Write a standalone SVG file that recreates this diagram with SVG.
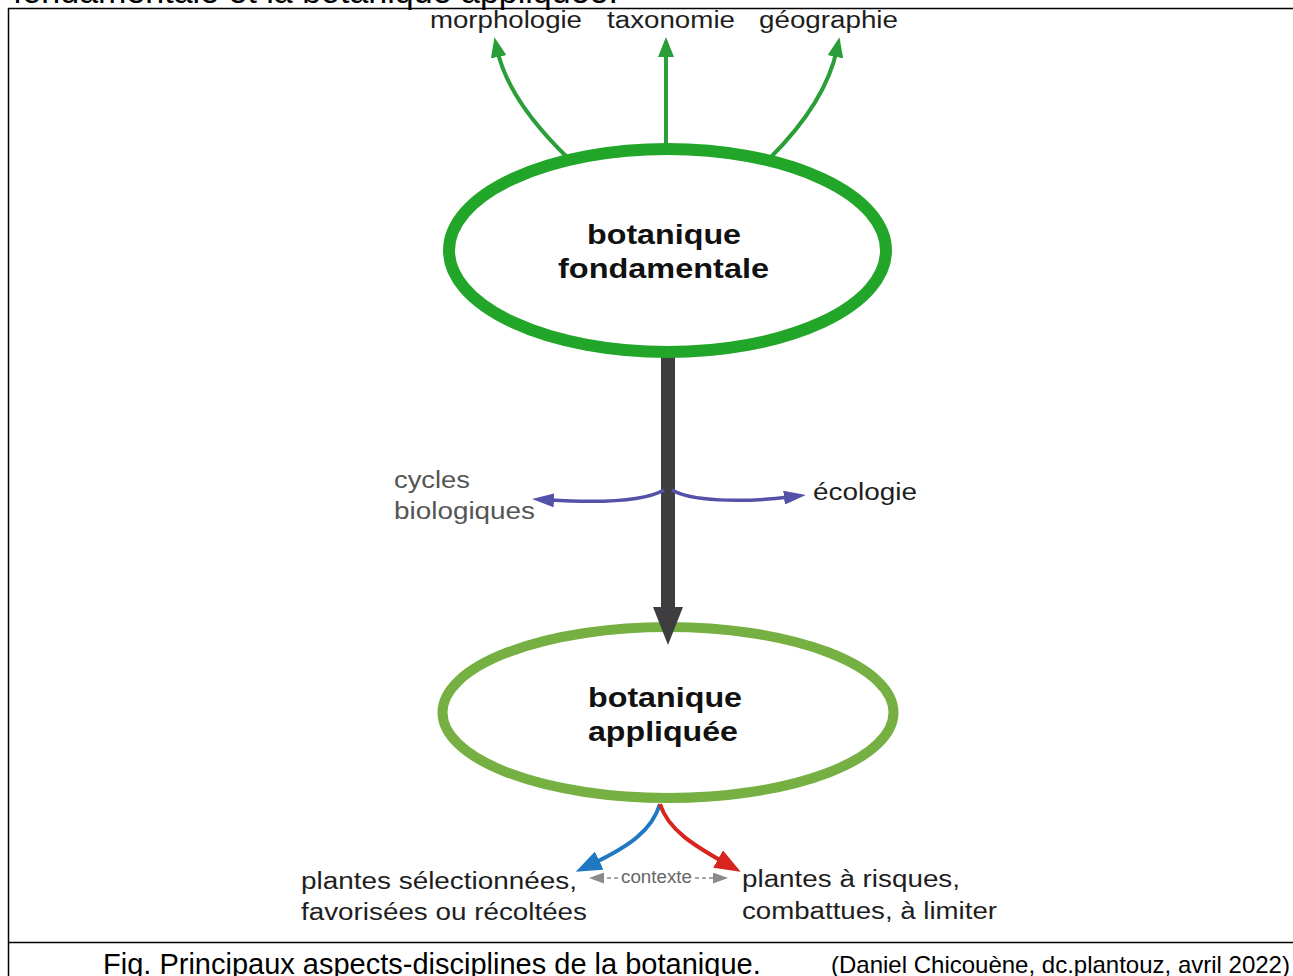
<svg xmlns="http://www.w3.org/2000/svg" width="1293" height="976" viewBox="0 0 1293 976">
  <style>
    .lbl { font-family: "Liberation Sans", Arial, sans-serif; font-size: 23px; fill: #1e1e1e; }
    .node { font-family: "Liberation Sans", Arial, sans-serif; font-size: 28px; font-weight: bold; fill: #111; }
    .cap { font-family: "Liberation Sans", Arial, sans-serif; fill: #000; }
    .grey { fill: #555; }
    .ctx { font-family: "Liberation Sans", Arial, sans-serif; font-size: 18px; fill: #666; }
  </style>
  <defs>
    <marker id="mGreen" markerUnits="userSpaceOnUse" markerWidth="20" markerHeight="16" refX="8" refY="8" orient="auto">
      <path d="M0,0 L20,8 L0,16 z" fill="#2a9e38"/>
    </marker>
    <marker id="mPurple" markerUnits="userSpaceOnUse" markerWidth="22" markerHeight="14" refX="5" refY="7" orient="auto">
      <path d="M0,0 L22,7 L0,14 z" fill="#5451a8"/>
    </marker>
    <marker id="mBlue" markerUnits="userSpaceOnUse" markerWidth="26" markerHeight="20" refX="8" refY="10" orient="auto">
      <path d="M0,0 L26,10 L0,20 z" fill="#1f78c1"/>
    </marker>
    <marker id="mRed" markerUnits="userSpaceOnUse" markerWidth="26" markerHeight="20" refX="8" refY="10" orient="auto">
      <path d="M0,0 L26,10 L0,20 z" fill="#d8241f"/>
    </marker>
    <marker id="mGrey" markerUnits="userSpaceOnUse" markerWidth="15" markerHeight="11" refX="0" refY="5.5" orient="auto">
      <path d="M0,0 L15,5.5 L0,11 z" fill="#8a8a8a"/>
    </marker>
  </defs>

  <rect width="1293" height="976" fill="#fff"/>

  <!-- cut-off title above the frame -->
  <text class="cap" x="13" y="3" font-size="34">fondamentale et la botanique appliquée.</text>

  <!-- frame -->
  <g id="frame" fill="none" stroke="#000" stroke-width="1.5">
    <rect x="8.5" y="8.5" width="1300" height="1000" fill="none"/>
    <line x1="8" y1="942.5" x2="1293" y2="942.5"/>
  </g>

  <!-- connectors -->
  <g id="connectors" fill="none">
    <path d="M568,158 Q508,100 497,49" stroke="#2a9e38" stroke-width="4" marker-end="url(#mGreen)"/>
    <path d="M666,152 L666,49" stroke="#2a9e38" stroke-width="4" marker-end="url(#mGreen)"/>
    <path d="M770,158 Q826,102 837,49" stroke="#2a9e38" stroke-width="4" marker-end="url(#mGreen)"/>

    <path d="M668,356 L668,609" stroke="#3e3e40" stroke-width="14"/>

    <path d="M664,490 C645,501 600,503 549,500" stroke="#5451a8" stroke-width="3.5" marker-end="url(#mPurple)"/>
    <path d="M672,490 C690,501 740,503 789,497" stroke="#5451a8" stroke-width="3.5" marker-end="url(#mPurple)"/>

    <path d="M660,804 C652,830 630,846 592,864" stroke="#1f78c1" stroke-width="4" marker-end="url(#mBlue)"/>
    <path d="M660,804 C668,830 695,846 725,863" stroke="#d8241f" stroke-width="4" marker-end="url(#mRed)"/>

    <path d="M618,878 L604,878" stroke="#8a8a8a" stroke-width="1.5" stroke-dasharray="4,3" marker-end="url(#mGrey)"/>
    <path d="M695,878 L713,878" stroke="#8a8a8a" stroke-width="1.5" stroke-dasharray="4,3" marker-end="url(#mGrey)"/>
  </g>

  <!-- node: botanique fondamentale -->
  <g id="node-fondamentale">
    <ellipse cx="667.5" cy="250.5" rx="218.5" ry="101.5" fill="#fff" stroke="#22a629" stroke-width="12"/>
    <text class="node" x="587" y="244" textLength="154" lengthAdjust="spacingAndGlyphs">botanique</text>
    <text class="node" x="558" y="278" textLength="211" lengthAdjust="spacingAndGlyphs">fondamentale</text>
  </g>

  <!-- node: botanique appliquée -->
  <g id="node-appliquee">
    <ellipse cx="668" cy="712.5" rx="225.5" ry="85.5" fill="none" stroke="#76b043" stroke-width="10"/>
    <text class="node" x="588" y="707" textLength="154" lengthAdjust="spacingAndGlyphs">botanique</text>
    <text class="node" x="588" y="741" textLength="150" lengthAdjust="spacingAndGlyphs">appliquée</text>
  </g>

  <!-- dark arrowhead drawn over ellipse 2 -->
  <g id="dark-head">
    <path d="M653,607 L683,607 L668,645 z" fill="#3e3e40"/>
  </g>

  <g id="label-morphologie"><text class="lbl" x="430" y="28" textLength="152" lengthAdjust="spacingAndGlyphs">morphologie</text></g>
  <g id="label-taxonomie"><text class="lbl" x="607" y="28" textLength="128" lengthAdjust="spacingAndGlyphs">taxonomie</text></g>
  <g id="label-geographie"><text class="lbl" x="759" y="28" textLength="139" lengthAdjust="spacingAndGlyphs">géographie</text></g>

  <g id="label-cycles">
    <text class="lbl grey" x="394" y="488" textLength="76" lengthAdjust="spacingAndGlyphs">cycles</text>
    <text class="lbl grey" x="394" y="519" textLength="141" lengthAdjust="spacingAndGlyphs">biologiques</text>
  </g>
  <g id="label-ecologie"><text class="lbl" x="813" y="500" textLength="104" lengthAdjust="spacingAndGlyphs">écologie</text></g>

  <g id="label-selectionnees">
    <text class="lbl" x="301" y="889" textLength="276" lengthAdjust="spacingAndGlyphs">plantes sélectionnées,</text>
    <text class="lbl" x="301" y="920" textLength="286" lengthAdjust="spacingAndGlyphs">favorisées ou récoltées</text>
  </g>
  <g id="label-risques">
    <text class="lbl" x="742" y="887" textLength="218" lengthAdjust="spacingAndGlyphs">plantes à risques,</text>
    <text class="lbl" x="742" y="919" textLength="255" lengthAdjust="spacingAndGlyphs">combattues, à limiter</text>
  </g>
  <g id="label-contexte"><text class="ctx" x="621" y="883" textLength="71" lengthAdjust="spacingAndGlyphs">contexte</text></g>

  <!-- caption -->
  <text class="cap" x="103" y="974" font-size="29">Fig. Principaux aspects-disciplines de la botanique.</text>
  <text class="cap" x="831" y="973" font-size="24">(Daniel Chicouène, dc.plantouz, avril 2022)</text>
</svg>
